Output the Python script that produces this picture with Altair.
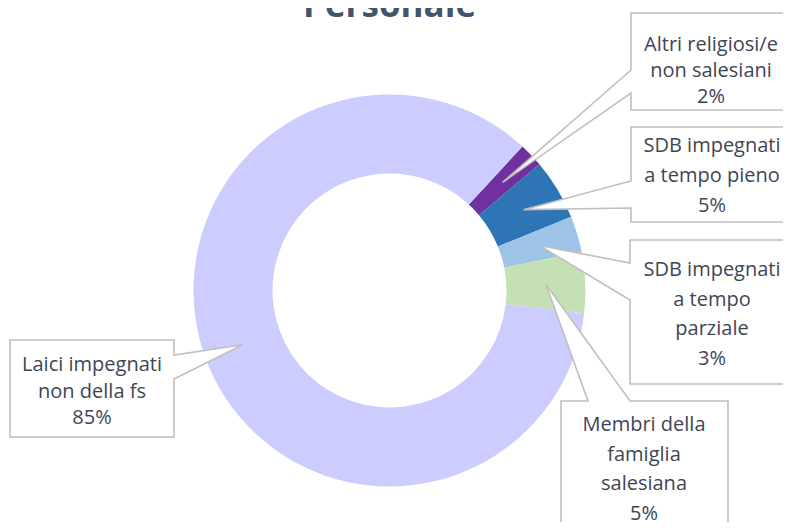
import math
import altair as alt
import pandas as pd

# ---------------- data ----------------
categories = [
    "Altri religiosi/e non salesiani",
    "SDB impegnati a tempo pieno",
    "SDB impegnati a tempo parziale",
    "Membri della famiglia salesiana",
    "Laici impegnati non della fs",
]
label_lines = [
    ["Altri religiosi/e", "non salesiani"],
    ["SDB impegnati", "a tempo pieno"],
    ["SDB impegnati", "a tempo", "parziale"],
    ["Membri della", "famiglia", "salesiana"],
    ["Laici impegnati", "non della fs"],
]
values = [2, 5, 3, 5, 85]
colors = ["#7030A0", "#2E75B6", "#9DC3E6", "#C5E0B4", "#CCCCFF"]
title_text = "Personale"

# ---------------- layout ----------------
W, H = 775, 514
CX, CY = 381.5, 282.5
R_OUT, R_IN = 196, 117
R_TIP = (R_OUT + R_IN) / 2
START = math.radians(42.7)

# callout boxes: (left, top, right, bottom), pointer side, pointer gap, first text line position
callout_layout = [
    dict(side="left", box=(623, 5, 800, 102), gap=(62, 85), text=(703, 37), lh=26),
    dict(side="left", box=(623, 119, 800, 214), gap=(173, 200), text=(704, 138), lh=30),
    dict(side="left", box=(622, 232, 800, 376), gap=(255, 292), text=(704, 262), lh=29.5),
    dict(side="top", box=(553, 393, 720, 560), gap=(580, 622), text=(636, 417), lh=29.5),
    dict(side="right", box=(2, 332, 166, 429), gap=(347, 371), text=(84, 357), lh=26.5),
]

TEXT_COLOR = "#3E4656"
TITLE_COLOR = "#44546A"
BOX_STROKE = "#BFBFBF"
FONT = "Open Sans"

total = sum(values)
df = pd.DataFrame({"cat": categories, "value": values, "idx": list(range(len(values)))})

# pointer tips at the middle of each slice
tips = []
cum = 0
for v in values:
    mid = (cum + v / 2) / total
    cum += v
    a = START + 2 * math.pi * mid
    tips.append((CX + R_TIP * math.sin(a), CY - R_TIP * math.cos(a)))

features = []
text_rows = []
for i, lay in enumerate(callout_layout):
    L, T, R, B = lay["box"]
    g1, g2 = lay["gap"]
    tx, ty = tips[i]
    if lay["side"] == "left":
        pts = [(L, T), (R, T), (R, B), (L, B), (L, g2), (tx, ty), (L, g1), (L, T)]
    elif lay["side"] == "top":
        pts = [(L, T), (g1, T), (tx, ty), (g2, T), (R, T), (R, B), (L, B), (L, T)]
    else:
        pts = [(L, T), (R, T), (R, g1), (tx, ty), (R, g2), (R, B), (L, B), (L, T)]
    features.append({
        "type": "Feature",
        "properties": {"id": i},
        "geometry": {"type": "Polygon", "coordinates": [[list(p) for p in pts]]},
    })
    pct = f"{round(values[i] / total * 100)}%"
    lines = label_lines[i] + [pct]
    for j, line in enumerate(lines):
        text_rows.append({
            "label": line,
            "x": lay["text"][0],
            "y": lay["text"][1] + j * lay["lh"],
        })

donut = alt.Chart(df).mark_arc(innerRadius=R_IN, outerRadius=R_OUT).encode(
    theta=alt.Theta("value:Q", stack=True,
                    scale=alt.Scale(range=[START, START + 2 * math.pi])),
    color=alt.Color("cat:N", scale=alt.Scale(domain=categories, range=colors), legend=None),
    order=alt.Order("idx:Q"),
    x=alt.value(CX),
    y=alt.value(CY),
)

callouts = alt.Chart(alt.Data(values=features)).mark_geoshape(
    fill="white", stroke=BOX_STROKE, strokeWidth=1.6
).project(type="identity", scale=1, translate=[0, 0])

labels = alt.Chart(pd.DataFrame(text_rows)).mark_text(
    font=FONT, fontSize=20, align="center", baseline="middle", color=TEXT_COLOR,
).encode(
    x=alt.X("x:Q", scale=None, axis=None),
    y=alt.Y("y:Q", scale=None, axis=None),
    text="label:N",
)

title = alt.Chart(pd.DataFrame({"t": [title_text]})).mark_text(
    font=FONT, fontSize=35, fontWeight="bold", align="center",
    baseline="alphabetic", color=TITLE_COLOR,
).encode(x=alt.value(CX), y=alt.value(9), text="t:N")

chart = alt.layer(donut, callouts, labels, title).properties(
    width=W, height=H, padding=0, autosize="none"
).configure_view(stroke=None)

chart.save("out.html", embed_options={"renderer": "svg", "actions": False})
